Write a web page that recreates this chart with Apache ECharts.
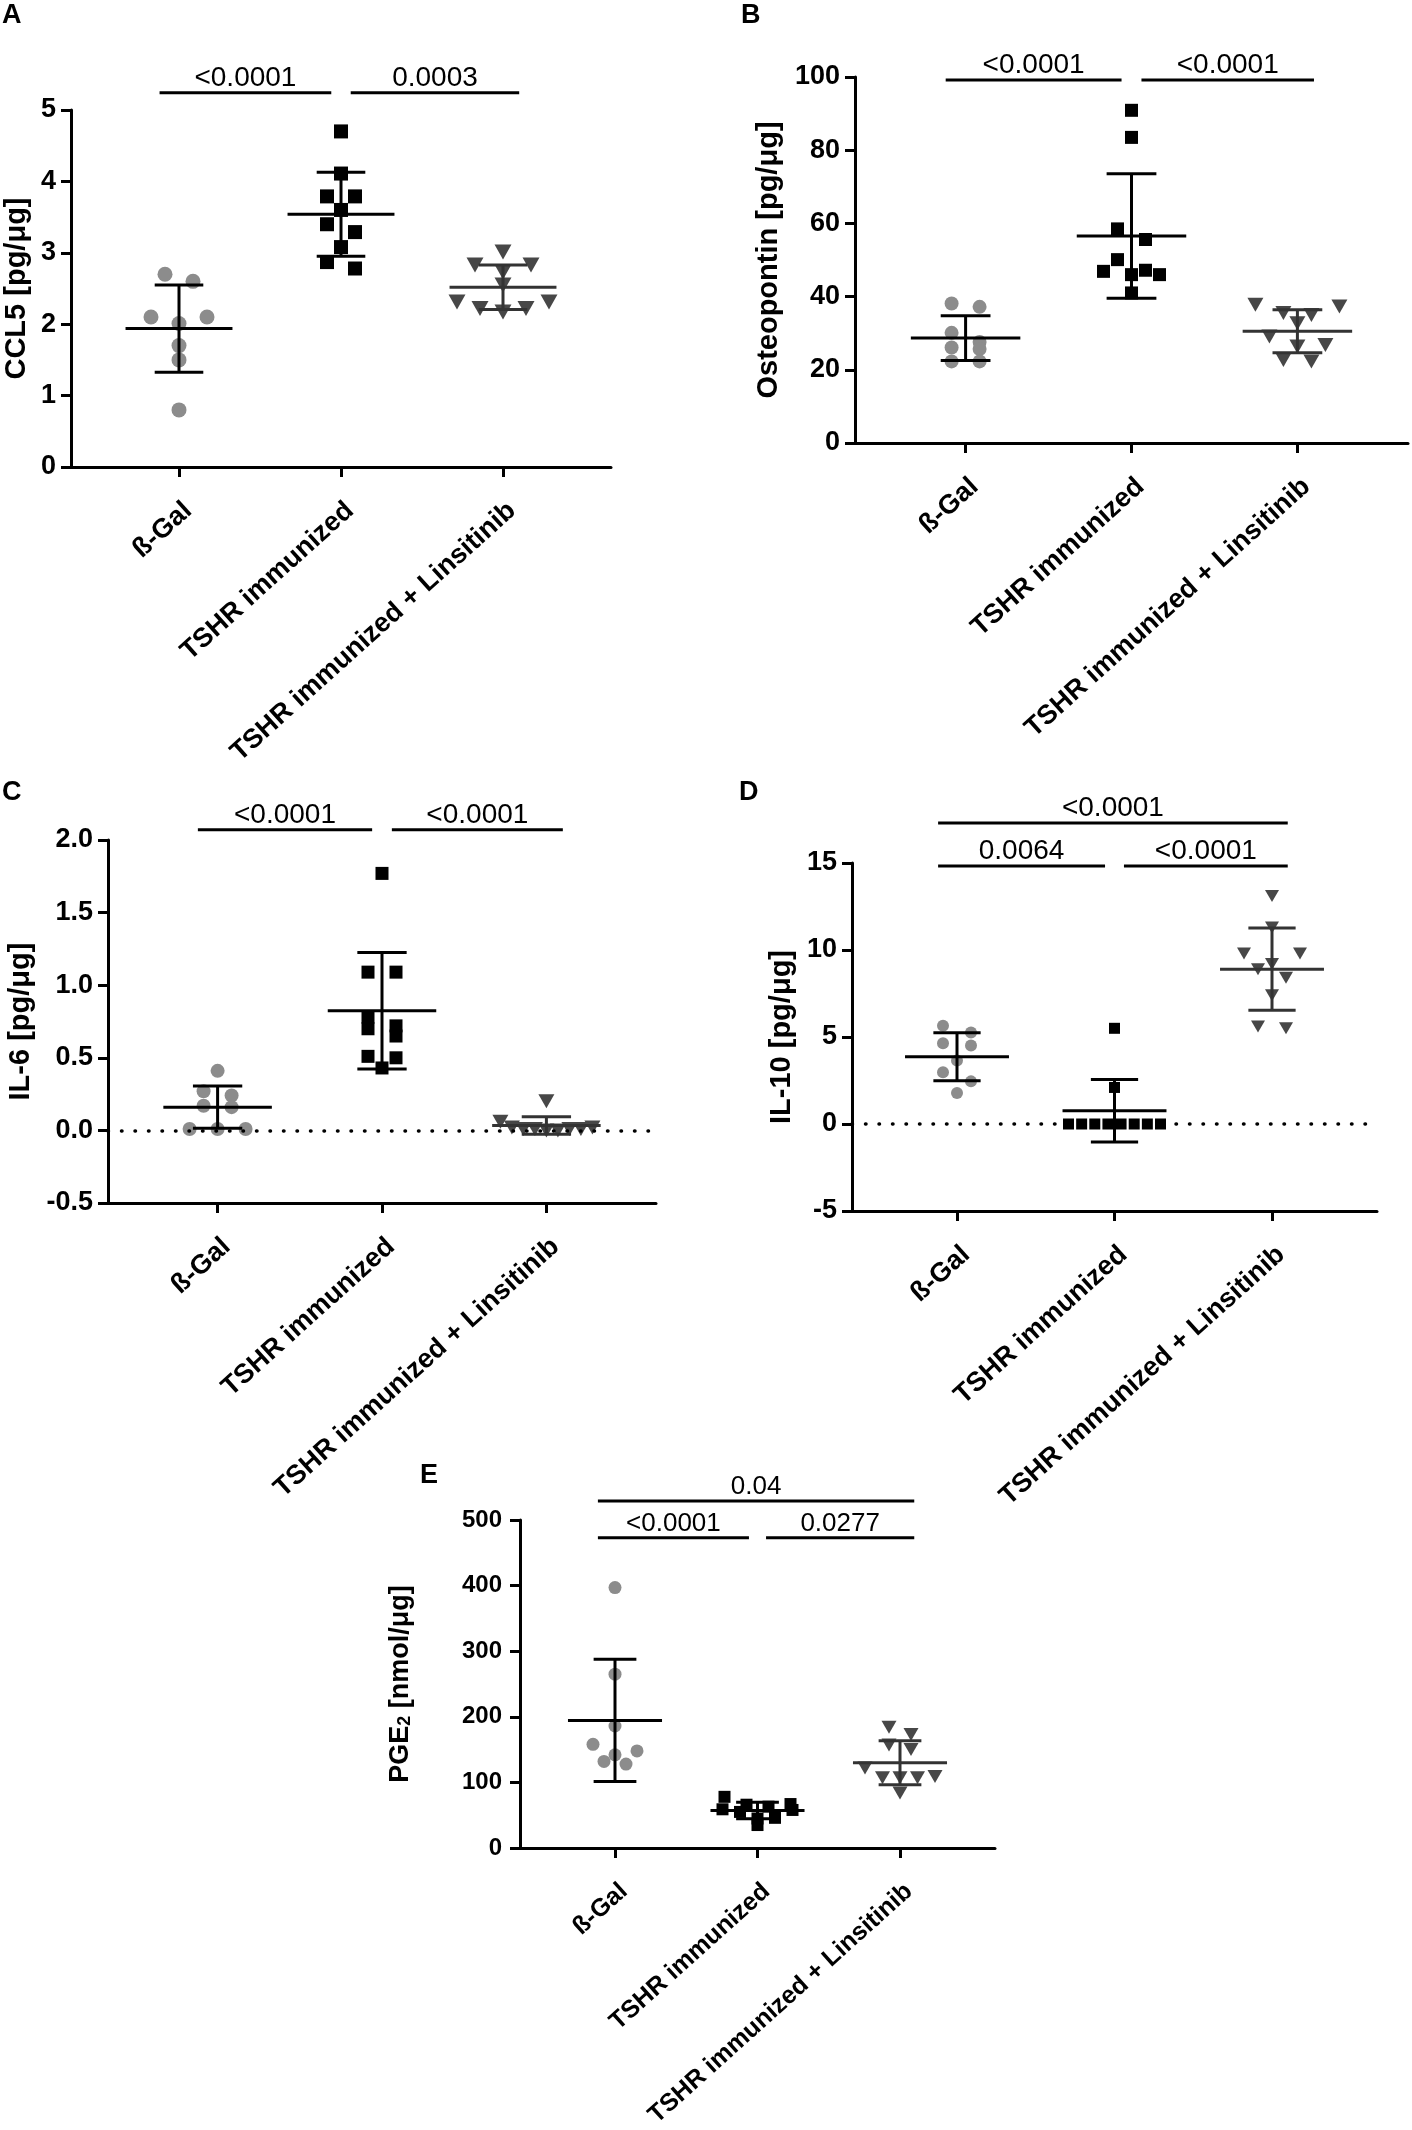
<!DOCTYPE html>
<html>
<head>
<meta charset="utf-8">
<title>Cytokines</title>
<script src="https://cdn.jsdelivr.net/npm/echarts@6/dist/echarts.min.js"></script>
<style>
  html, body { margin: 0; padding: 0; background: #fff; }
  #chart { width: 1412px; height: 2130px; }
</style>
</head>
<body>
<div id="chart"></div>
<script>
// group names on the x axis
const groups = ['ß-Gal', 'TSHR immunized', 'TSHR immunized + Linsitinib']

// A - CCL5 [pg/µg]
const ccl5Gal = [2.70, 2.60, 2.10, 2.10, 2.01, 1.70, 1.50, 0.80]
const ccl5Tshr = [4.70, 4.11, 3.79, 3.79, 3.60, 3.40, 3.29, 3.08, 2.87, 2.78]
const ccl5Lins = [3.01, 2.83, 2.83, 2.73, 2.55, 2.31, 2.31, 2.22, 2.22, 2.17]
const ccl5Sig = [[1, 2, '<0.0001', 5.24], [2, 3, '0.0003', 5.24]]

// B - Osteopontin [pg/µg]
const opnGal = [38.1, 37.2, 30.1, 27.6, 26.1, 25.7, 22.3, 22.3]
const opnTshr = [90.9, 83.5, 58.5, 55.6, 50.1, 47.2, 46.9, 46.0, 46.0, 41.0]
const opnLins = [37.8, 37.3, 35.5, 35.0, 32.7, 29.1, 26.8, 26.4, 22.3, 22.7]
const opnSig = [[1, 2, '<0.0001', 99.2], [2, 3, '<0.0001', 99.2]]

// C - IL-6 [pg/µg]
const il6Gal = [0.41, 0.27, 0.24, 0.17, 0.16, 0.01, 0.01, 0.01]
const il6Tshr = [1.77, 1.09, 1.09, 0.78, 0.72, 0.70, 0.65, 0.51, 0.50, 0.43]
const il6Lins = [0.20, 0.06, 0.02, 0.01, 0.01, 0.00, 0.00, 0.01, 0.02, 0.01]
const il6Sig = [[1, 2, '<0.0001', 2.07], [2, 3, '<0.0001', 2.07]]

// D - IL-10 [pg/µg]
const il10Gal = [5.64, 5.26, 4.64, 4.51, 3.65, 2.98, 2.45, 1.78]
const il10Tshr = [5.50, 2.10, 0, 0, 0, 0, 0, 0, 0, 0]
const il10Lins = [13.1, 11.3, 9.8, 9.8, 9.2, 8.9, 8.4, 7.4, 5.5, 5.6]
const il10Sig = [[1, 3, '<0.0001', 17.3], [1, 2, '0.0064', 14.83], [2, 3, '<0.0001', 14.83]]

// E - PGE2 [nmol/µg]
const pgeGal = [397, 265, 186, 158, 148, 142, 132, 128]
const pgeTshr = [78, 67, 66, 63, 59, 58, 55, 46, 45, 35]
const pgeLins = [184, 173, 157, 150, 122, 107, 109, 107, 107, 84]
const pgeSig = [[1, 3, '0.04', 529], [1, 2, '<0.0001', 473], [2, 3, '0.0277', 473]]

const FONT = "'Liberation Sans', Arial, sans-serif"
const X_MIN = 1 / 3
const X_MAX = 11 / 3

// symbol per group (circle / square / triangle down)
const marks = [
    { symbol: 'circle', color: '#8c8c8c', bar: '#000', scale: 1 },
    { symbol: 'rect', color: '#000', bar: '#000', scale: 0.92 },
    { symbol: 'triangle', color: '#474747', bar: '#333', scale: 1, rotate: 180 }
]

const panels = [
    {
        letter: 'A', letterAt: [2, 2], name: 'CCL5 [pg/μg]', nameGap: 40,
        grid: { left: 71, top: 110, width: 540, height: 357 },
        yMin: 0, yMax: 5, yStep: 1, digits: 0, sym: 15,
        data: [ccl5Gal, ccl5Tshr, ccl5Lins], sig: ccl5Sig
    },
    {
        letter: 'B', letterAt: [741, 2], name: 'Osteopontin [pg/μg]', nameGap: 72,
        grid: { left: 855, top: 77, width: 553, height: 366 },
        yMin: 0, yMax: 100, yStep: 20, digits: 0, sym: 14,
        data: [opnGal, opnTshr, opnLins], sig: opnSig
    },
    {
        letter: 'C', letterAt: [2, 779], name: 'IL-6 [pg/μg]', nameGap: 73,
        grid: { left: 108, top: 840, width: 548, height: 363 },
        yMin: -0.5, yMax: 2, yStep: 0.5, digits: 1, zero: true, sym: 14,
        data: [il6Gal, il6Tshr, il6Lins], sig: il6Sig
    },
    {
        letter: 'D', letterAt: [739, 779], name: 'IL-10 [pg/μg]', nameGap: 56,
        grid: { left: 852, top: 863, width: 525, height: 348 },
        yMin: -5, yMax: 15, yStep: 5, digits: 0, zero: true, sym: 12,
        data: [il10Gal, il10Tshr, il10Lins], sig: il10Sig
    },
    {
        letter: 'E', letterAt: [420, 1462], name: 'PGE{sub|2} [nmol/μg]', nameGap: 106, small: true,
        grid: { left: 520, top: 1520, width: 475, height: 328 },
        yMin: 0, yMax: 500, yStep: 100, digits: 0, sym: 13,
        data: [pgeGal, pgeTshr, pgeLins], sig: pgeSig
    }
]

function mean(arr) {
    return arr.reduce((s, v) => s + v, 0) / arr.length
}

function sd(arr) {
    const m = mean(arr)
    return Math.sqrt(arr.reduce((s, v) => s + (v - m) * (v - m), 0) / (arr.length - 1))
}

// spread points of similar value side by side, like a column scatter
function swarm(vals, g, p) {
    const pxY = p.grid.height / (p.yMax - p.yMin)
    const pxX = p.grid.width / (X_MAX - X_MIN)
    const gap = p.small ? 22 : 28
    const span = p.small ? 70 : 92
    const rows = []
    vals.slice().sort((a, b) => b - a).forEach(v => {
        const row = rows[rows.length - 1]
        if (row && (row[0] - v) * pxY < 11) row.push(v)
        else rows.push([v])
    })
    const pts = []
    rows.forEach(row => {
        const n = row.length
        const step = n > 1 ? Math.min(gap, span / (n - 1)) : 0
        const slots = row.map((_, i) => i - (n - 1) / 2)
            .sort((a, b) => Math.abs(b) - Math.abs(a))
        row.forEach((v, i) => pts.push([g + slots[i] * step / pxX, v]))
    })
    return pts
}

const grids = []
const xAxes = []
const yAxes = []
const series = []
const graphics = []

panels.forEach((p, k) => {
    const sigSize = p.small ? 26 : 28

    grids.push(p.grid)

    xAxes.push({
        type: 'value', gridIndex: k, min: X_MIN, max: X_MAX,
        axisLine: { onZero: false, lineStyle: { color: '#000', width: 3 } },
        axisTick: { customValues: [1, 2, 3], length: 10, lineStyle: { color: '#000', width: 3 } },
        axisLabel: { show: false },
        splitLine: { show: false }
    })

    yAxes.push({
        type: 'value', gridIndex: k, min: p.yMin, max: p.yMax, interval: p.yStep,
        name: p.name, nameLocation: 'middle', nameGap: p.nameGap,
        nameTextStyle: {
            fontFamily: FONT, fontWeight: 'bold', fontSize: p.small ? 27 : 29, color: '#000',
            rich: {
                sub: { fontFamily: FONT, fontWeight: 'bold', fontSize: 18, color: '#000',
                       verticalAlign: 'bottom', lineHeight: 18, padding: [16, 0, 0, 0] }
            }
        },
        axisLine: { show: true, onZero: false, lineStyle: { color: '#000', width: 3 } },
        axisTick: { show: true, length: 10, lineStyle: { color: '#000', width: 3 } },
        axisLabel: {
            margin: p.small ? 18 : 15, fontFamily: FONT, fontWeight: 'bold',
            fontSize: p.small ? 24 : 27, color: '#000',
            formatter: v => v.toFixed(p.digits)
        },
        splitLine: { show: false }
    })

    // points
    p.data.forEach((vals, g) => {
        const m = marks[g]
        const size = Math.round(p.sym * m.scale)
        const s = {
            type: 'scatter', xAxisIndex: k, yAxisIndex: k,
            data: swarm(vals, g + 1, p),
            symbol: m.symbol,
            symbolSize: m.symbol === 'triangle' ? [size + 2, size] : size,
            symbolRotate: m.rotate || 0,
            itemStyle: { color: m.color, opacity: 1 },
            z: 2
        }
        if (p.zero && g === 0) {
            s.markLine = {
                silent: true, symbol: 'none', label: { show: false },
                lineStyle: { color: '#000', width: 3.5, type: [0.5, 13], cap: 'round' },
                data: [{ yAxis: 0 }]
            }
        }
        series.push(s)
    })

    // mean +- SD
    series.push({
        type: 'custom', xAxisIndex: k, yAxisIndex: k, z: 3,
        data: p.data.map((vals, g) => [g + 1, mean(vals), sd(vals)]),
        renderItem: (params, api) => {
            const g = api.value(0)
            const m = api.value(1)
            const s = api.value(2)
            const color = marks[params.dataIndex].bar
            const seg = (x1, y1, x2, y2) => {
                const a = api.coord([x1, y1])
                const b = api.coord([x2, y2])
                return {
                    type: 'line',
                    shape: { x1: a[0], y1: a[1], x2: b[0], y2: b[1] },
                    style: { stroke: color, lineWidth: 3 }
                }
            }
            return {
                type: 'group',
                children: [
                    seg(g - 0.33, m, g + 0.33, m),
                    seg(g, m - s, g, m + s),
                    seg(g - 0.15, m + s, g + 0.15, m + s),
                    seg(g - 0.15, m - s, g + 0.15, m - s)
                ]
            }
        }
    })

    // p-value brackets
    series.push({
        type: 'custom', xAxisIndex: k, yAxisIndex: k, z: 3, clip: false,
        data: p.sig.map(d => [d[0] === 1 ? 0.88 : d[0] + 0.06, d[1] === 3 ? 3.1 : d[1] - 0.06, d[3]]),
        renderItem: (params, api) => {
            const a = api.coord([api.value(0), api.value(2)])
            const b = api.coord([api.value(1), api.value(2)])
            return {
                type: 'group',
                children: [
                    {
                        type: 'line',
                        shape: { x1: a[0], y1: a[1], x2: b[0], y2: b[1] },
                        style: { stroke: '#000', lineWidth: 3 }
                    },
                    {
                        type: 'text',
                        style: {
                            text: p.sig[params.dataIndex][2],
                            x: (a[0] + b[0]) / 2, y: a[1] - 1,
                            align: 'center', verticalAlign: 'bottom',
                            fontFamily: FONT, fontSize: sigSize, fill: '#000'
                        }
                    }
                ]
            }
        }
    })

    // group names, slanted under each tick
    series.push({
        type: 'custom', xAxisIndex: k, yAxisIndex: k, z: 3, clip: false, silent: true,
        data: groups.map((name, g) => [g + 1, p.yMin]),
        renderItem: (params, api) => {
            const pt = api.coord([api.value(0), api.value(1)])
            return {
                type: 'text',
                x: pt[0] + 9,
                y: pt[1] + 40,
                rotation: 42 * Math.PI / 180,
                style: {
                    text: groups[params.dataIndex], x: 0, y: 0,
                    align: 'right', verticalAlign: 'middle',
                    fontFamily: FONT, fontWeight: 'bold', fontSize: p.small ? 25 : 27, fill: '#000'
                }
            }
        }
    })

    graphics.push({
        type: 'text', left: p.letterAt[0], top: p.letterAt[1],
        style: { text: p.letter, fontFamily: FONT, fontWeight: 'bold', fontSize: 27, fill: '#000' }
    })
})

const chart = echarts.init(document.getElementById('chart'))
chart.setOption({
    backgroundColor: '#fff',
    animation: false,
    grid: grids,
    xAxis: xAxes,
    yAxis: yAxes,
    series: series,
    graphic: graphics
})
</script>
</body>
</html>
